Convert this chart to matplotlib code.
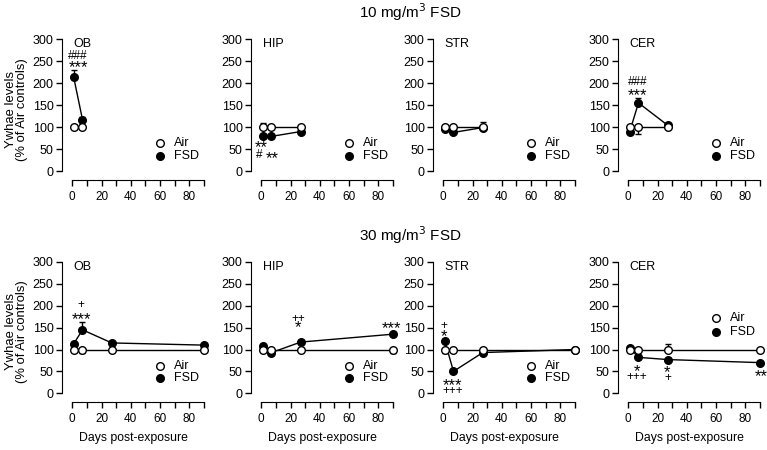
import matplotlib.pyplot as plt
import numpy as np

plt.rcParams['font.family'] = ['Liberation Sans', 'DejaVu Sans']

# Sampling days per panel
tage_10 = [1, 7, 27]
tage_30 = [1, 7, 27, 90]
regionen = ['OB', 'HIP', 'STR', 'CER']

# 10 mg/m3 (top row)
air_10 = {'OB': [100, 100], 'HIP': [100, 100, 100], 'STR': [100, 100, 100], 'CER': [100, 100, 100]}
air_10_err = {'OB': [5, 3], 'HIP': [9, 3, 3], 'STR': [4, 3, 3], 'CER': [4, -15, -5]}
fsd_10 = {'OB': [213, 117], 'HIP': [79, 79, 90], 'STR': [95, 88, 99], 'CER': [90, 155, 104]}
fsd_10_err = {'OB': [17, 6], 'HIP': [3, 3, 4], 'STR': [4, 3, 13], 'CER': [-6, 12, 4]}

# 30 mg/m3 (bottom row)
air_30 = {'OB': [100, 100, 100, 100], 'HIP': [100, 100, 100, 100],
          'STR': [100, 100, 100, 100], 'CER': [100, 100, 100, 100]}
air_30_err = {'OB': [-6, -7, -5, 3], 'HIP': [3, 3, 3, -7],
              'STR': [-9, 3, 3, 3], 'CER': [-6, 3, 12, 3]}
fsd_30 = {'OB': [113, 145, 115, 110], 'HIP': [108, 93, 117, 135],
          'STR': [120, 50, 93, 100], 'CER': [104, 82, 77, 70]}
fsd_30_err = {'OB': [5, 18, 4, 4], 'HIP': [3, 3, 4, 4],
              'STR': [5, 3, 3, 3], 'CER': [3, 3, 3, 3]}

# significance marks: (day, visible centre, text)
sterne_10 = {'OB': [(4, 264, '###'), (4, 245, '***')],
             'HIP': [(0, 64, '**'), (-1.5, 39, '#'), (7.3, 39, '**')],
             'STR': [],
             'CER': [(6.3, 205, '###'), (6.3, 182, '***')]}
sterne_30 = {'OB': [(6, 204, '+'), (6, 177, '***')],
             'HIP': [(25, 172, '++'), (25, 159, '*'), (89, 157, '***')],
             'STR': [(0.5, 157, '+'), (0.5, 139, '*'), (6.3, 28, '***'), (6.3, 7, '+++')],
             'CER': [(6, 59, '*'), (6, 39, '+++'), (26.5, 57, '*'), (27, 36, '+'), (91, 48, '**')]}

# legend rows in axes fraction
legende_unten = (0.26, 0.172)
legende_oben = (0.60, 0.503)

links_px = [62, 251, 433, 618]
breite = 142 / 767


def panel(ax, tage, air, air_err, fsd, fsd_err, name, sterne, leg_y):
    n = len(air)
    t = tage[:n]
    for werte, fehler, fc in [(air, air_err, 'white'), (fsd, fsd_err, 'black')]:
        fehler = np.array(fehler)
        unten = np.where(fehler < 0, -fehler, 0)
        oben = np.where(fehler > 0, fehler, 0)
        ax.errorbar(t, werte, yerr=[unten, oben], color='black', lw=1, capsize=2,
                    elinewidth=1, marker='o', ms=5.5, mfc=fc, mec='black', mew=1,
                    clip_on=False, zorder=3 if fc == 'black' else 4)
    # legend by hand, so markers and labels sit where the original has them
    for yy, fc, txt in [(leg_y[0], 'white', 'Air'), (leg_y[1], 'black', 'FSD')]:
        ax.plot([0.69], [yy], 'o', ms=5.5, mfc=fc, mec='black', mew=1,
                transform=ax.transAxes, clip_on=False)
        ax.text(0.79, yy, txt, transform=ax.transAxes, ha='left', va='center', fontsize=9)
    for tag, wert, txt in sterne:
        if '*' in txt:
            ax.text(tag, wert - 20, txt, ha='center', va='baseline', fontsize=12)
        else:
            ax.text(tag, wert - 9, txt, ha='center', va='baseline', fontsize=8.5)
    ax.text(1, 289, name, ha='left', va='center', fontsize=9)

    ax.set_xlim(-7, 90)
    ax.set_ylim(-20, 300)
    ax.spines['top'].set_visible(False)
    ax.spines['right'].set_visible(False)
    ax.spines['left'].set_bounds(0, 300)
    ax.spines['bottom'].set_bounds(0, 90)
    ax.set_xticks(range(0, 91, 10))
    ax.set_xticklabels([str(v) if v % 20 == 0 and v < 90 else '' for v in range(0, 91, 10)])
    ax.set_yticks(range(0, 301, 50))
    ax.tick_params(direction='out', length=4, width=1)
    ax.tick_params(axis='x', labelsize=8.5, pad=4)
    ax.tick_params(axis='y', labelsize=9, pad=2)


fig = plt.figure(figsize=(7.67, 4.5), dpi=100)
for zeile, (unten_px, oben_px) in enumerate([(180, 39), (402, 262)]):
    for i, reg in enumerate(regionen):
        ax = fig.add_axes([links_px[i] / 767, (450 - unten_px) / 450, breite,
                           (unten_px - oben_px) / 450])
        if zeile == 0:
            panel(ax, tage_10, air_10[reg], air_10_err[reg], fsd_10[reg], fsd_10_err[reg],
                  reg, sterne_10[reg], legende_unten)
        else:
            panel(ax, tage_30, air_30[reg], air_30_err[reg], fsd_30[reg], fsd_30_err[reg],
                  reg, sterne_30[reg], legende_oben if reg == 'CER' else legende_unten)
            ax.set_xlabel('Days post-exposure', fontsize=8.8, labelpad=5)
        if i == 0:
            ax.set_ylabel('Ywhae levels\n(% of Air controls)', fontsize=9.4,
                          linespacing=1.0, labelpad=3)

fig.text(0.535, 0.974, '10 mg/m$^3$ FSD', ha='center', va='center', fontsize=11)
fig.text(0.535, 0.477, '30 mg/m$^3$ FSD', ha='center', va='center', fontsize=11)

fig.savefig('out.png', dpi=100)
